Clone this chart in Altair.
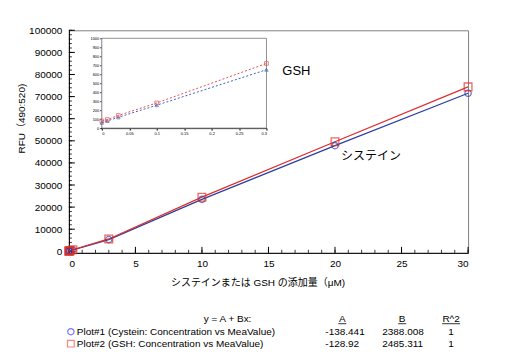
import altair as alt
import pandas as pd

# ---- data ----
conc = [0, 0.01, 0.03, 0.1, 0.3, 3, 10, 20, 30]
cys = [60, 80, 120, 255, 650, 5300, 23500, 47800, 71500]
gsh = [80, 95, 140, 280, 720, 5600, 24500, 49600, 74400]
inset_n = 5  # first points shown in the inset

y_major = list(range(0, 100001, 10000))
y_minor = list(range(0, 100001, 2000))
x_major = [0, 5, 10, 15, 20, 25, 30]
x_minor = list(range(0, 31))
inset_y_ticks = list(range(0, 1001, 100))
inset_x_ticks = [0, 0.05, 0.1, 0.15, 0.2, 0.25, 0.3]

x_title = "システインまたは GSH の添加量（μM)"
y_title = "RFU（490:520)"
fit_header = "y = A + Bx:"
fit_cols = ["A", "B", "R^2"]
fit_names = ["Plot#1 (Cystein: Concentration vs MeaValue)",
             "Plot#2 (GSH: Concentration vs MeaValue)"]
fit_A = ["-138.441", "-128.92"]
fit_B = ["2388.008", "2485.311"]
fit_R2 = ["1", "1"]

FONT = "Liberation Sans, Arial, Noto Sans CJK JP, sans-serif"
W, H = 400, 223
BLUE, RED = "#2a3f9f", "#e02b2b"

df_c = pd.DataFrame({"conc": conc, "rfu": cys})
df_g = pd.DataFrame({"conc": conc, "rfu": gsh})


def MX():
    return alt.X("conc:Q",
                 scale=alt.Scale(domain=[0, 30], nice=False, zero=False),
                 axis=alt.Axis(values=x_major, format="d", title=x_title,
                               ticks=False, labelPadding=6, labelFontSize=10,
                               titleFontSize=10, titleX=189, titleY=30,
                               titleBaseline="middle", titleAlign="center"))


def MY():
    return alt.Y("rfu:Q",
                 scale=alt.Scale(domain=[-700, 100000], nice=False, zero=False),
                 axis=alt.Axis(values=y_major, format="d", title=y_title,
                               ticks=False, labelPadding=7, labelFontSize=10,
                               titleFontSize=10, titleX=-47, titleY=88,
                               titleBaseline="middle", titleAlign="center",
                               titleAngle=270))


layers = []
# inward ticks
layers.append(alt.Chart(pd.DataFrame({"rfu": y_minor})).mark_rule(color="black", strokeWidth=0.8)
              .encode(y=MY(), x=alt.value(0), x2=alt.value(3)))
layers.append(alt.Chart(pd.DataFrame({"rfu": y_major})).mark_rule(color="black", strokeWidth=1)
              .encode(y=MY(), x=alt.value(0), x2=alt.value(6)))
layers.append(alt.Chart(pd.DataFrame({"conc": x_minor})).mark_rule(color="black", strokeWidth=0.8)
              .encode(x=MX(), y=alt.value(H), y2=alt.value(H - 3)))
layers.append(alt.Chart(pd.DataFrame({"conc": x_major})).mark_rule(color="black", strokeWidth=1)
              .encode(x=MX(), y=alt.value(H), y2=alt.value(H - 6)))

# series
layers.append(alt.Chart(df_c).mark_line(color=BLUE, strokeWidth=1.2).encode(x=MX(), y=MY()))
layers.append(alt.Chart(df_g).mark_line(color=RED, strokeWidth=1.2).encode(x=MX(), y=MY()))
layers.append(alt.Chart(df_c).mark_point(shape="circle", color=BLUE, size=40, strokeWidth=1.3,
                                         filled=False).encode(x=MX(), y=MY()))
layers.append(alt.Chart(df_g).mark_point(shape="square", color=RED, size=60, strokeWidth=1.3,
                                         filled=False).encode(x=MX(), y=MY()))

# annotations in data coordinates
ann = pd.DataFrame({"conc": [17.1, 22.7], "rfu": [81500, 43100], "t": ["GSH", "システイン"]})
layers.append(alt.Chart(ann.iloc[[0]]).mark_text(fontSize=13, align="center", baseline="middle",
                                                  color="black")
              .encode(x=MX(), y=MY(), text="t:N"))
layers.append(alt.Chart(ann.iloc[[1]]).mark_text(fontSize=12, align="center", baseline="middle",
                                                  color="black")
              .encode(x=MX(), y=MY(), text="t:N"))


def txt(s, x, y, align="left"):
    return (alt.Chart(pd.DataFrame({"t": [s]}))
            .mark_text(fontSize=10, align=align, baseline="middle", color="black")
            .encode(text="t:N", x=alt.value(x), y=alt.value(y)))


# fit table below the chart
layers.append(txt(fit_header, 159, 289, "center"))
for s, xc in zip(fit_cols, [274, 334, 383]):
    layers.append(txt(s, xc, 289, "center"))
for x1, x2 in [(270, 278), (330, 338), (374, 392)]:
    layers.append(alt.Chart(pd.DataFrame({"t": [0]})).mark_rule(color="black", strokeWidth=0.8)
                  .encode(x=alt.value(x1), x2=alt.value(x2), y=alt.value(294)))
for i, yy in enumerate([302, 314]):
    layers.append(txt(fit_names[i], 8, yy))
    layers.append(txt(fit_A[i], 257, yy))
    layers.append(txt(fit_B[i], 314, yy))
    layers.append(txt(fit_R2[i], 383, yy, "center"))
layers.append(alt.Chart(pd.DataFrame({"t": [0]})).mark_point(shape="circle", color="#3f3fff",
                                                             size=40, strokeWidth=1.2)
              .encode(x=alt.value(2), y=alt.value(302)))
layers.append(alt.Chart(pd.DataFrame({"t": [0]})).mark_point(shape="square", color="#ee5555",
                                                             size=45, strokeWidth=1.2)
              .encode(x=alt.value(2), y=alt.value(314)))

main = alt.layer(*layers)

# ---- inset ----
IL, IR, IT, IB = 33, 198, 8, 98


def IX():
    return alt.X("conc:Q",
                 scale=alt.Scale(domain=[0, 0.3], range=[IL, IR], nice=False, zero=False),
                 axis=alt.Axis(orient="bottom", offset=-(H - IB), values=inset_x_ticks,
                               format="~g", labelFontSize=4, tickSize=2, labelPadding=1,
                               title=None, grid=False))


def IY():
    return alt.Y("rfu:Q",
                 scale=alt.Scale(domain=[0, 1000], range=[IB, IT], nice=False, zero=False),
                 axis=alt.Axis(orient="left", offset=-IL, values=inset_y_ticks, format="d",
                               labelFontSize=4, tickSize=2, labelPadding=1, title=None,
                               grid=False))


frame = (alt.Chart(pd.DataFrame({"conc": [0], "c2": [0.3], "rfu": [0], "r2": [1000]}))
         .mark_rect(fill="white", stroke="#909090", strokeWidth=1)
         .encode(x=IX(), x2="c2:Q", y=IY(), y2="r2:Q"))
ic = df_c.iloc[:inset_n]
ig = df_g.iloc[:inset_n]
inset = alt.layer(
    frame,
    alt.Chart(ic).mark_line(color="#4060c0", strokeWidth=1, strokeDash=[2, 2]).encode(x=IX(), y=IY()),
    alt.Chart(ig).mark_line(color="#e05050", strokeWidth=1, strokeDash=[2, 2]).encode(x=IX(), y=IY()),
    alt.Chart(ic).mark_point(shape="triangle-up", color="#4060c0", size=12, strokeWidth=1)
    .encode(x=IX(), y=IY()),
    alt.Chart(ig).mark_point(shape="square", color="#e05050", size=14, strokeWidth=1)
    .encode(x=IX(), y=IY()),
)

chart = (alt.layer(main, inset)
         .resolve_scale(x="independent", y="independent")
         .properties(width=W, height=H, autosize="none",
                     padding={"left": 61, "top": 22, "right": 32, "bottom": 102})
         .configure_axis(labelFont=FONT, titleFont=FONT, labelColor="black",
                         titleColor="black", domainColor="black", tickColor="black",
                         titleFontWeight="normal", grid=False)
         .configure_view(stroke="#808080")
         .configure_text(font=FONT))

chart.save("out.html", embed_options={"renderer": "svg", "actions": False})
